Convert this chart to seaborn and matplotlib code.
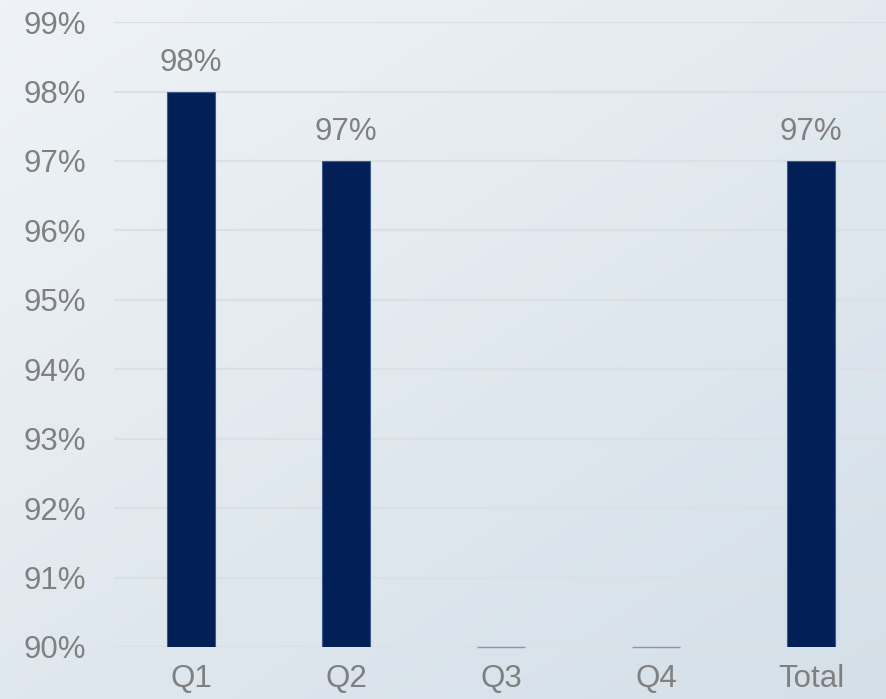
import numpy as np
import pandas as pd
import matplotlib
matplotlib.use('Agg')
import matplotlib.pyplot as plt
import seaborn as sns
from matplotlib.colors import LinearSegmentedColormap

# 数据
categories = ['Q1', 'Q2', 'Q3', 'Q4', 'Total']
values = [98, 97, None, None, 97]
y_ticks = [90, 91, 92, 93, 94, 95, 96, 97, 98, 99]
y_min, y_max = 90, 99

sns.set_style('white')
plt.rcParams['font.family'] = ['Liberation Sans', 'DejaVu Sans']

df = pd.DataFrame({'cat': categories, 'val': values})
df['plot_val'] = df['val'].fillna(y_min)

fig = plt.figure(figsize=(8.87, 6.99), dpi=100)

# 渐变背景
bg = fig.add_axes([0, 0, 1, 1], zorder=-10)
xx, yy = np.meshgrid(np.linspace(0, 1, 200), np.linspace(0, 1, 200))
grad = (xx * 0.45 + yy * 0.55)
cmap = LinearSegmentedColormap.from_list('bg', ['#eff3f7', '#d4dfe8'])
bg.imshow(grad, cmap=cmap, aspect='auto', extent=[0, 1, 1, 0])
bg.axis('off')

ax = fig.add_axes([0.128, 0.0744, 0.874, 0.894])
ax.patch.set_alpha(0)

sns.barplot(data=df, x='cat', y='plot_val', color='#022055', width=0.31,
            edgecolor='#3f5a8e', linewidth=0.8, saturation=1, ax=ax, zorder=3)

# 空值柱子只显示底部细线
for p, v in zip(ax.patches, values):
    if v is None:
        p.set_y(y_min)
        p.set_height(0)
        p.set_clip_on(False)
        p.set_edgecolor('#8595b5')
        p.set_linewidth(1.0)

ax.set_ylim(y_min, y_max)
ax.set_yticks(y_ticks)
ax.set_yticklabels([f'{t}%' for t in y_ticks])
ax.grid(axis='y', color='#dcdfe3', linewidth=1.6, zorder=0)
ax.set_axisbelow(True)
for s in ax.spines.values():
    s.set_visible(False)
ax.tick_params(axis='both', length=0, labelsize=22.5, labelcolor='#808080')
ax.tick_params(axis='y', pad=20)
ax.tick_params(axis='x', pad=12)
ax.set_xlabel('')
ax.set_ylabel('')

# 数据标签
for i, v in enumerate(values):
    if v is not None and not pd.isna(v):
        ax.text(i, v + 0.2, f'{v:.0f}%', ha='center', va='bottom',
                fontsize=22.5, color='#808080')

fig.savefig('out.png', dpi=100)
